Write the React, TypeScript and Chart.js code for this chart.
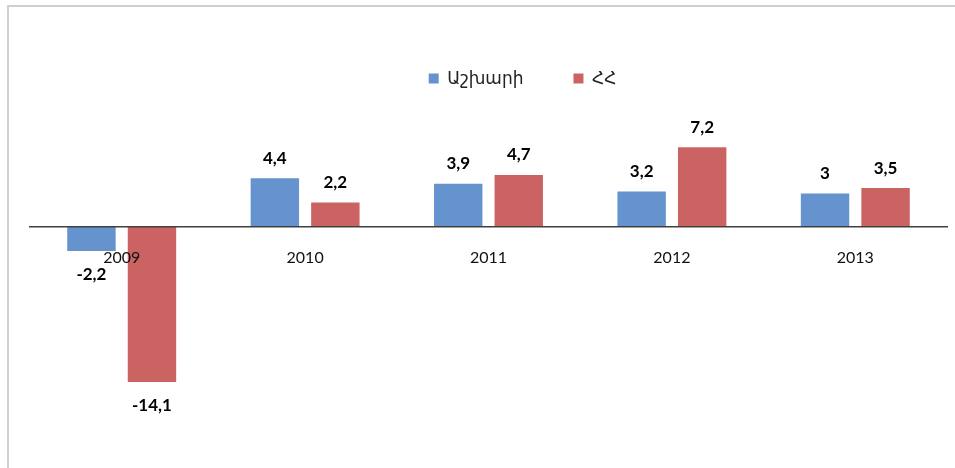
import { useEffect, useRef } from "react";
import { Chart, registerables } from "chart.js";

Chart.register(...registerables);

const categories = ["2009", "2010", "2011", "2012", "2013"];
const worldValues = [-2.2, 4.4, 3.9, 3.2, 3];
const armeniaValues = [-14.1, 2.2, 4.7, 7.2, 3.5];
const seriesNames = ["Աշխարի", "ՀՀ"];
const seriesColors = ["#6593CE", "#CC6363"];

const FONT = "Lato, 'DejaVu Sans', sans-serif";

const valueLabels = {
  id: "valueLabels",
  afterDatasetsDraw(chart: any) {
    const ctx = chart.ctx;
    ctx.save();
    ctx.font = `bold 17px ${FONT}`;
    ctx.fillStyle = "#000";
    ctx.textAlign = "center";
    ctx.textBaseline = "middle";
    chart.data.datasets.forEach((ds: any, i: number) => {
      const meta = chart.getDatasetMeta(i);
      meta.data.forEach((el: any, j: number) => {
        const v = ds.data[j] as number;
        const text = String(v).replace(".", ",");
        const y = v >= 0 ? el.y - 20 : el.y + 24;
        ctx.fillText(text, el.x, y);
      });
    });
    ctx.restore();
  },
};

const legendShift = {
  id: "legendShift",
  afterLayout(chart: any) {
    const l = chart.legend;
    if (l) {
      l.left += 34;
      l.right += 34;
    }
  },
};

export default function App() {
  const ref = useRef<HTMLCanvasElement | null>(null);

  useEffect(() => {
    if (!ref.current) return;
    const chart = new Chart(ref.current, {
      type: "bar",
      data: {
        labels: categories,
        datasets: [
          {
            label: seriesNames[0],
            data: worldValues,
            backgroundColor: seriesColors[0],
            categoryPercentage: 0.66,
            barPercentage: 0.8,
          },
          {
            label: seriesNames[1],
            data: armeniaValues,
            backgroundColor: seriesColors[1],
            categoryPercentage: 0.66,
            barPercentage: 0.8,
          },
        ],
      },
      options: {
        animation: false,
        responsive: false,
        maintainAspectRatio: false,
        layout: { padding: { left: 30, right: 8, top: 20, bottom: 21 } },
        plugins: {
          legend: {
            position: "top",
            labels: {
              boxWidth: 10,
              boxHeight: 10,
              padding: 50,
              color: "#222",
              font: { size: 17, family: FONT },
            },
          },
          tooltip: { enabled: false },
        },
        scales: {
          x: {
            position: { y: 0 } as any,
            grid: { display: false, drawTicks: false },
            border: { display: true, color: "#404040", width: 1.5, z: 1 },
            ticks: { padding: 22, color: "#111", font: { size: 16, family: FONT }, z: 2 },
          },
          y: { display: false, min: -20, max: 11.77 },
        },
      },
      plugins: [valueLabels, legendShift],
    });
    return () => chart.destroy();
  }, []);

  return (
    <div
      style={{
        position: "fixed",
        left: 0,
        top: 0,
        width: 955,
        height: 468,
        overflow: "hidden",
        background: "#fff",
      }}
    >
      <div
        style={{
          position: "absolute",
          left: 7,
          top: 5,
          width: 1000,
          height: 1000,
          borderLeft: "2px solid #cfcfcf",
          borderTop: "2px solid #cfcfcf",
        }}
      />
      <canvas ref={ref} width={955} height={468} style={{ position: "absolute", left: 0, top: 0 }} />
    </div>
  );
}
